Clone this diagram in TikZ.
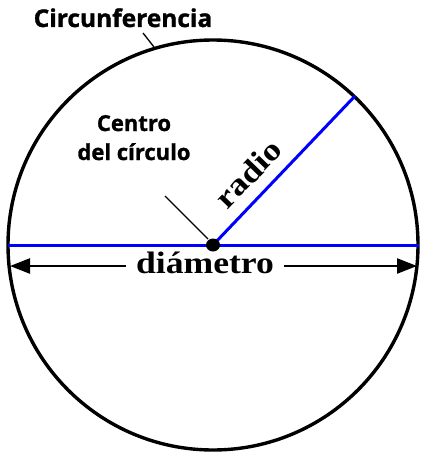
\documentclass[tikz,border=0pt]{standalone}
\usepackage{fontspec}
\setmainfont{Liberation Serif}
\newfontfamily\labelfont{Open Sans}[BoldFeatures={FakeBold=1.2}]
\usetikzlibrary{arrows.meta}
\definecolor{dblue}{RGB}{0,0,255}
\tikzset{
  rim/.style={draw=black,line width=3.4pt},
  blueline/.style={draw=dblue,line width=3pt},
  leader/.style={draw=black,line width=1.3pt},
  sanslabel/.style={font=\labelfont\bfseries\fontsize{22}{29}\selectfont,align=center,inner sep=0pt},
  bigsans/.style={sanslabel,font=\labelfont\bfseries\fontsize{24.5}{29}\selectfont},
  seriflabel/.style={font=\bfseries\fontsize{31}{31}\selectfont,inner sep=0pt},
  dimarrow/.style={draw=black,line width=2.4pt,-{Triangle[length=20pt,width=15pt]}}
}
\begin{document}
\begin{tikzpicture}[x=1pt,y=-1pt]
\useasboundingbox (0,0) rectangle (433,463);
\coordinate (c) at (213,245);
\draw[rim] (c) circle (205);
\coordinate (dl) at (8,245);
\coordinate (dr) at (419,245);
\draw[blueline] (dl) -- (dr);
\coordinate (rend) at (355,96);
\draw[blueline] (c) -- (rend);
\fill[black] (c) ellipse (7 and 6.5);
% diameter label and arrows
\node[seriflabel,anchor=base] (dtext) at (205,273) {\scalebox{1.15}[1]{di\'ametro}};
\coordinate (al) at (10,266);
\coordinate (ar) at (417,266);
\draw[dimarrow] ([xshift=-10pt,yshift=7pt]dtext.base west) -- (al);
\draw[dimarrow] ([xshift=10pt,yshift=7pt]dtext.base east) -- (ar);
% radius label
\node[seriflabel,rotate=46,anchor=base] (rtext) at (256,181) {\scalebox{1.15}[1]{radio}};
% circumference label
\node[bigsans,anchor=base] (ctext) at (123,27) {Circunferencia};
\coordinate (cl1) at (143,33);
\coordinate (cl2) at (154,47);
\draw[leader] (cl1) -- (cl2);
% centre label
\node[sanslabel,anchor=base] (ztext) at (134,160) {Centro\\del c\'irculo};
\coordinate (zl1) at (165,196);
\coordinate (zl2) at (208,239);
\draw[leader] (zl1) -- (zl2);
\end{tikzpicture}
\end{document}
